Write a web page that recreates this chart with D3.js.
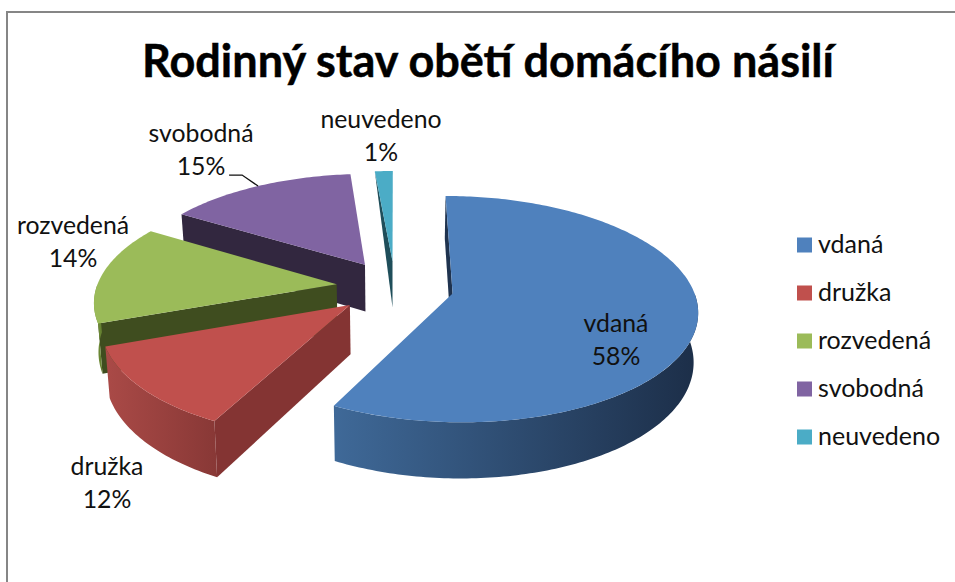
<!DOCTYPE html>
<html>
<head>
<meta charset="utf-8">
<script src="https://cdnjs.cloudflare.com/ajax/libs/d3/7.8.5/d3.min.js"></script>
<style>
  html, body { margin: 0; padding: 0; background: #fff; }
  text { font-family: Lato, "Noto Sans", sans-serif; fill: #111; }
</style>
</head>
<body>
<div id="chart"></div>
<script>
const categories = ["vdaná", "družka", "rozvedená", "svobodná", "neuvedeno"];
// the labels round them to whole percents
const shares = [57.6, 11.8, 14.4, 14.8, 1.4];
const titleText = "Rodinný stav obětí domácího násilí";

const width = 955, height = 582;

// the look of the excel 3d pie
const view = {cx: 395, cy: 287, radius: 240, explode: 0.245, tilt: 0.455, persp: 0.138, depth: 48, shrink: 0.015};
const startDeg = 0;

const topColours = ["#4f81bd", "#c0504d", "#9bbb59", "#8064a2", "#4bacc6"];
const sideColours = ["#1f334f", "#843433", "#3f4d1f", "#32273f", "#1f4e5a"];
const rimLeft = ["#3f6998", "#aa4a47", "#7f9e45", "#5f4b79", "#38808f"];
const rimRight = ["#1c2e48", "#883836", "#5f7a2c", "#4a3a60", "#2a6070"];

// manually placed labels, as in the source chart
const labelPos = [[616, 332], [107, 475], [73, 234], [201, 142], [381, 128]];

const colour = d3.scaleOrdinal().domain(categories).range(topColours);

const slices = d3.pie().sort(null)
    .startAngle(startDeg * Math.PI / 180)
    .endAngle((startDeg + 360) * Math.PI / 180)(shares);

function project(slice, angle, r, z) {
    const mid = (slice.startAngle + slice.endAngle) / 2;
    const u = r * Math.sin(angle) + view.explode * Math.sin(mid);
    const v = -r * Math.cos(angle) - view.explode * Math.cos(mid);
    const f = 1 / (1 - view.persp * v);
    const s = 1 - view.shrink * z;
    return [view.cx + view.radius * u * f * s, view.cy + view.radius * view.tilt * v * f + view.depth * f * z];
}

function rimAngles(a0, a1) {
    const n = Math.max(2, Math.ceil((a1 - a0) * 60));
    return d3.range(n + 1).map(i => a0 + (a1 - a0) * i / n);
}

const line = d3.line().curve(d3.curveLinear);
const closed = pts => line(pts) + "Z";

const svg = d3.select("#chart").append("svg")
    .attr("width", width)
    .attr("height", height)
    .style("display", "block");

// chart frame, right and bottom run off the picture
svg.append("rect")
    .attr("x", 7).attr("y", 12)
    .attr("width", width + 20).attr("height", height + 20)
    .attr("fill", "#fff")
    .attr("stroke", "#868686")
    .attr("stroke-width", 2);

svg.append("text")
    .attr("x", 488).attr("y", 77)
    .attr("text-anchor", "middle")
    .attr("font-size", 46)
    .attr("font-weight", 700)
    .attr("textLength", 692)
    .attr("lengthAdjust", "spacingAndGlyphs")
    .style("fill", "#000")
    .style("stroke", "#000")
    .style("stroke-width", 0.5)
    .text(titleText);

const defs = svg.append("defs");
slices.forEach((d, i) => {
    const g = defs.append("linearGradient").attr("id", `rim-${i}`);
    g.append("stop").attr("offset", "0%").attr("stop-color", rimLeft[i]);
    g.append("stop").attr("offset", "100%").attr("stop-color", rimRight[i]);
});

// back slices first, so the nearer ones cover them
const order = [4, 3, 2, 1, 0];
const pie = svg.append("g").attr("class", "pie");

order.forEach(i => {
    const d = slices[i];
    const g = pie.append("g").attr("class", "slice");
    const a0 = d.startAngle, a1 = d.endAngle;

    // the thin slice has its cut wall taper to a sliver in the source
    const startWall = i === 4
        ? [project(d, a0, 1, 0), project(d, a0, 0, 1), project(d, a0, 0, 0)]
        : [project(d, a0, 1, 0), project(d, a0, 1, 1), project(d, a0, 0, 1), project(d, a0, 0, 0)];
    g.append("path").attr("d", closed(startWall)).attr("fill", sideColours[i]);

    // outer wall, only the part that faces the viewer
    const from = Math.max(a0, Math.PI / 2), to = Math.min(a1, Math.PI * 1.5);
    if (to > from) {
        const arc = rimAngles(from, to);
        const wall = arc.map(a => project(d, a, 1, 0))
            .concat(arc.slice().reverse().map(a => project(d, a, 1, 1)));
        g.append("path").attr("d", closed(wall)).attr("fill", `url(#rim-${i})`);
    }

    const face = rimAngles(a0, a1).map(a => project(d, a, 1, 0));
    face.push(project(d, a0, 0, 0));
    g.append("path").attr("d", closed(face)).attr("fill", colour(categories[i]));
});

// leader line of svobodná
const leaderSlice = slices[3];
const leaderEnd = project(leaderSlice, (leaderSlice.startAngle * 0.5 + leaderSlice.endAngle * 0.5), 1, 0);
svg.append("path")
    .attr("d", line([[leaderEnd[0] - 29, leaderEnd[1] - 11], [leaderEnd[0] - 16, leaderEnd[1] - 11], leaderEnd]))
    .attr("fill", "none")
    .attr("stroke", "#111")
    .attr("stroke-width", 1.3);

// data labels
const labels = svg.append("g").attr("class", "data-labels");
categories.forEach((c, i) => {
    const t = labels.append("text")
        .attr("text-anchor", "middle")
        .attr("font-size", 24.8);
    t.append("tspan").attr("x", labelPos[i][0]).attr("y", labelPos[i][1]).text(c);
    t.append("tspan").attr("x", labelPos[i][0]).attr("y", labelPos[i][1] + 33).text(`${Math.round(shares[i])}%`);
});

// legend
const legendY = d3.scalePoint().domain(categories).range([245, 437]);
const legend = svg.append("g").attr("class", "legend");
categories.forEach(c => {
    legend.append("rect")
        .attr("x", 797).attr("y", legendY(c) - 7.5)
        .attr("width", 15).attr("height", 15)
        .attr("fill", colour(c));
    legend.append("text")
        .attr("x", 818).attr("y", legendY(c) + 8)
        .attr("font-size", 25)
        .text(c);
});
</script>
</body>
</html>
